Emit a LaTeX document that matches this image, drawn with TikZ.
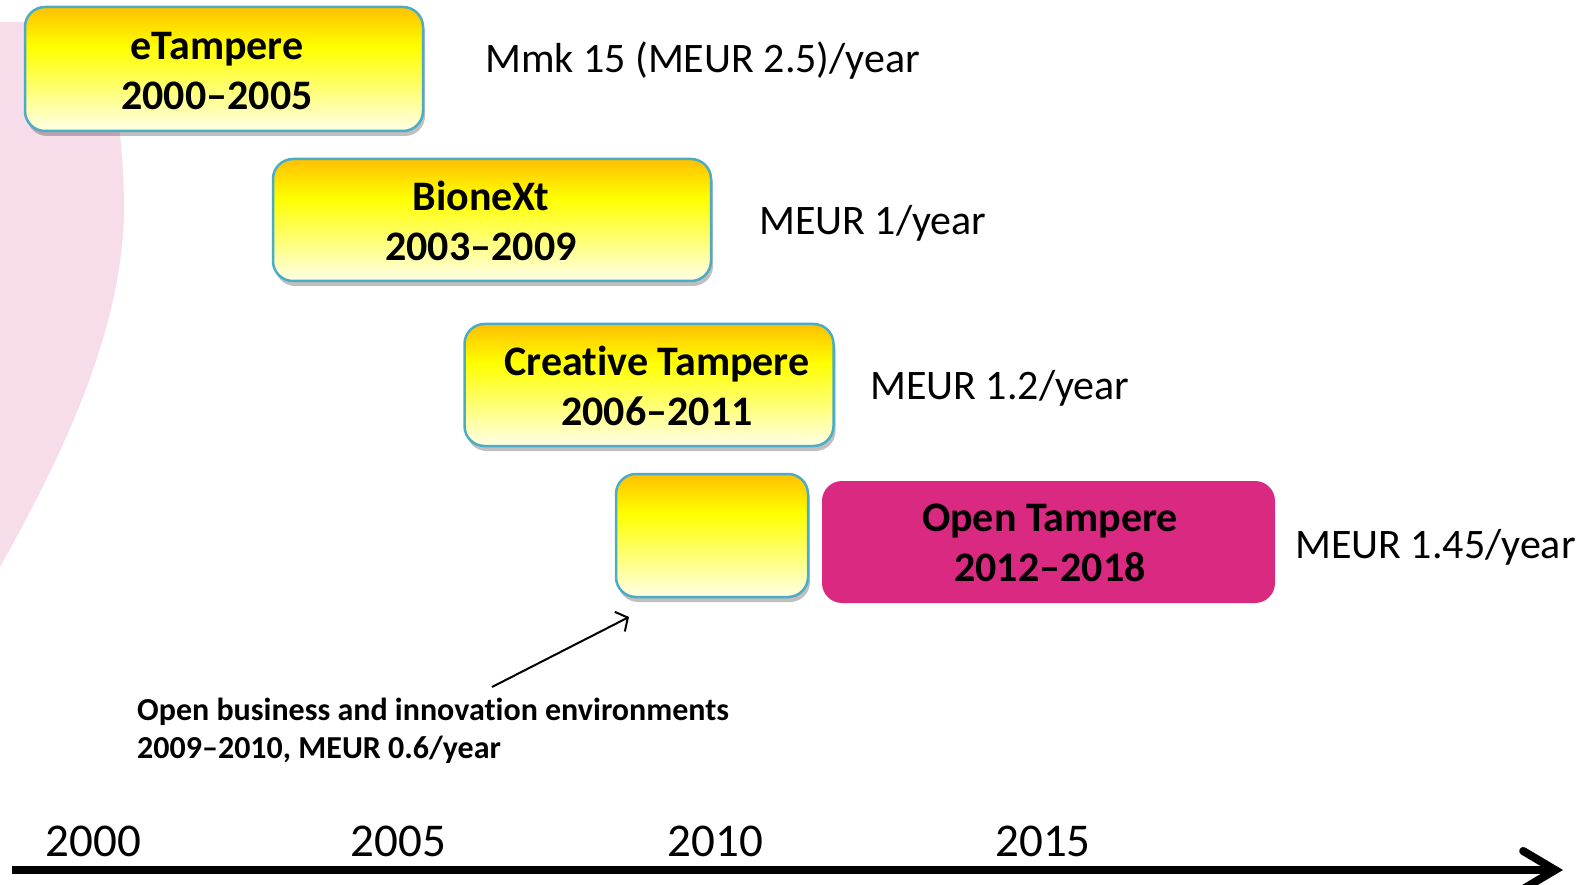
\documentclass[tikz,border=0pt]{standalone}
\usepackage{fontspec}
\setmainfont{Carlito}[Ligatures=NoCommon]
\usetikzlibrary{arrows.meta,shadows}
\definecolor{gtop}{RGB}{255,192,0}
\definecolor{gmid}{RGB}{255,255,0}
\definecolor{glow}{RGB}{255,255,232}
\definecolor{bordercol}{RGB}{75,172,198}
\definecolor{otcol}{RGB}{218,41,128}
\definecolor{pinkbg}{RGB}{246,221,233}
\pgfdeclareverticalshading{boxgrad}{100bp}{color(0bp)=(glow); color(25bp)=(glow); color(59bp)=(gmid); color(75bp)=(gtop); color(100bp)=(gtop)}
\tikzset{
  ybox/.style={draw=bordercol, line width=2.5pt, rounded corners=20pt, shade, shading=boxgrad,
    drop shadow={shadow xshift=2pt, shadow yshift=-5pt, opacity=0.25, fill=black},
    inner sep=0pt, outer sep=0pt},
  mbox/.style={fill=otcol, rounded corners=20pt, inner sep=0pt, outer sep=0pt},
  boxtext/.style={font=\bfseries\fontsize{42}{50}\selectfont, align=center, inner sep=0pt},
  amount/.style={font=\fontsize{42}{50}\selectfont, anchor=west, inner sep=0pt},
  yearlab/.style={font=\fontsize{47}{56}\selectfont, inner sep=0pt},
  note/.style={font=\bfseries\fontsize{32}{38}\selectfont, align=left, anchor=west, inner sep=0pt},
}
\begin{document}
\begin{tikzpicture}[x=1pt, y=-1pt]
\useasboundingbox (0,0) rectangle (1591,885);
% pink background shape
\fill[pinkbg] (0,22) -- (100,22)
  .. controls (115,80) and (124,150) .. (124,207)
  .. controls (124,330) and (60,460) .. (0,567)
  -- cycle;
% boxes
\node[ybox, minimum width=398pt, minimum height=124pt] (eT) at (224,69) {};
\node[ybox, minimum width=438pt, minimum height=122pt] (Bx) at (492,220) {};
\node[ybox, minimum width=369pt, minimum height=122pt] (CT) at (649,385) {};
\node[ybox, minimum width=192pt, minimum height=123pt] (OB) at (712,535.5) {};
\node[mbox, minimum width=453pt, minimum height=122pt] (OT) at (1048.5,542) {};
% box texts
\node[boxtext] (eTl) at (217,71) {eTampere\\2000–2005};
\node[boxtext] (Bxl) at (481,221) {BioneXt\\2003–2009};
\node[boxtext] (CTl) at (657,386) {Creative Tampere\\2006–2011};
\node[boxtext] (OTl) at (1050,543) {Open Tampere\\2012–2018};
% amounts
\node[amount] (a1) at (485,60.5) {Mmk 15 (MEUR 2.5)/year};
\node[amount] (a2) at (759,223) {MEUR 1/year};
\node[amount] (a3) at (870,388.5) {MEUR 1.2/year};
\node[amount] (a4) at (1295,547.5) {MEUR 1.45/year};
% note and arrow
\node[note] (nt) at (137,731) {Open business and innovation environments\\2009–2010, MEUR 0.6/year};
\coordinate (ns) at (492,687);
\coordinate (ne) at (629,617);
\draw[line width=2pt, -{Straight Barb[length=9pt, width=22pt]}] (ns) -- (ne);
% axis
\coordinate (axs) at (12,870);
\coordinate (axe) at (1563,870);
\draw[line width=8pt, -{Straight Barb[length=32pt, width=38pt, line cap=round]}] (axs) -- (axe);
\node[yearlab] (y0) at (93.5,841) {2000};
\node[yearlab] (y5) at (398.5,841) {2005};
\node[yearlab] (y10) at (715.5,841) {2010};
\node[yearlab] (y15) at (1043,841) {2015};
\end{tikzpicture}
\end{document}
